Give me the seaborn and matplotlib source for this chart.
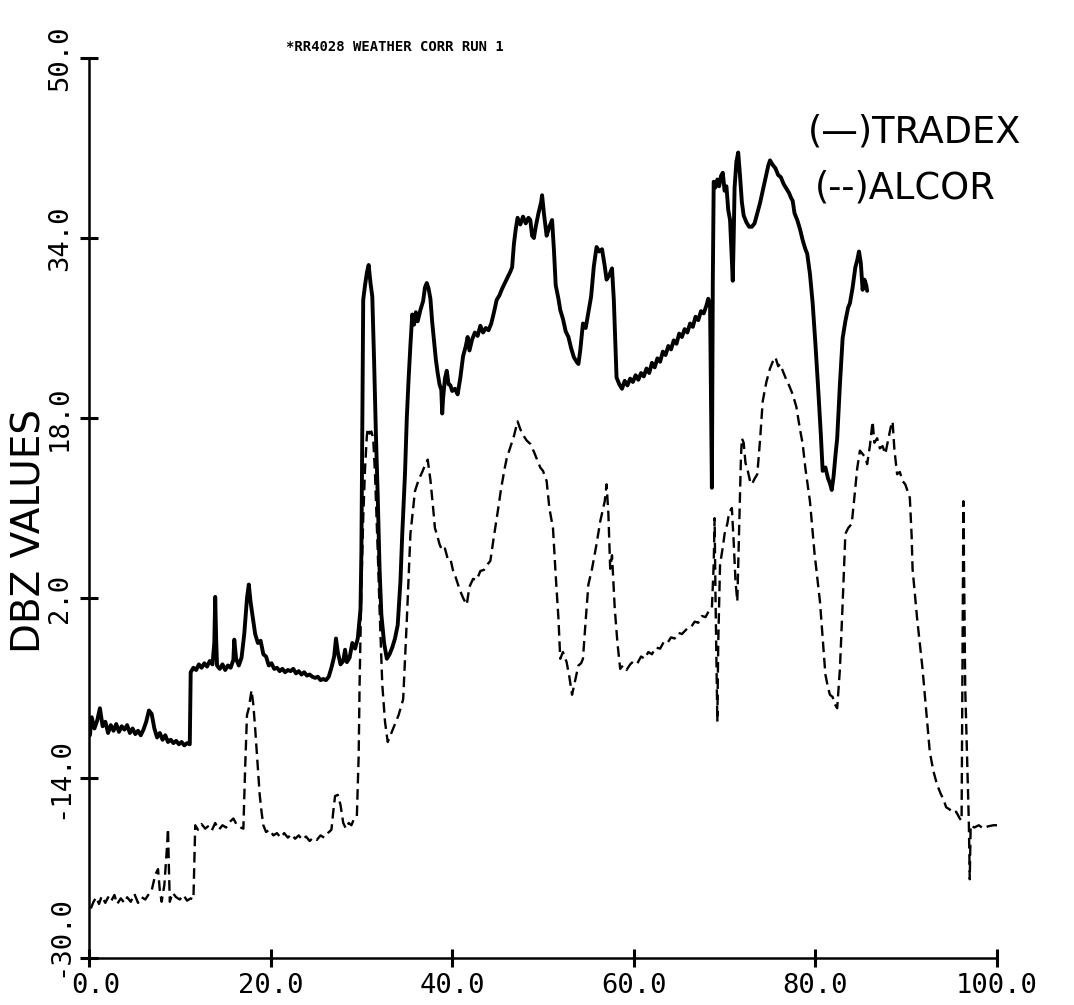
import matplotlib
matplotlib.use("Agg")
import matplotlib.pyplot as plt
import matplotlib.transforms as mtransforms
import seaborn as sns
import pandas as pd

# ---- TRADEX reflectivity (solid trace) ----
tradex_x = [0.1, 0.3, 0.6, 0.9, 1.2, 1.5, 1.8, 2.1, 2.4, 2.7, 3.0, 3.3, 3.6, 3.9, 4.2, 4.5, 4.8, 5.1, 5.4, 5.7,
            6.0, 6.3, 6.6, 6.9, 7.2, 7.5, 7.8, 8.1, 8.4, 8.7, 9.0, 9.3, 9.6, 9.9, 10.2, 10.5, 10.8, 11.1,
            11.2, 11.5, 11.8, 12.1, 12.4, 12.7, 13.0, 13.3, 13.6, 13.8, 13.9, 14.0, 14.1, 14.4, 14.7, 15.0,
            15.3, 15.6, 15.9, 16.0, 16.2, 16.5, 16.8, 17.1, 17.4, 17.6, 17.8, 18.0, 18.3, 18.6, 18.9, 19.2,
            19.5, 19.8, 20.1, 20.4, 20.7, 21.0, 21.3, 21.6, 21.9, 22.2, 22.5, 22.8, 23.1, 23.4, 23.7, 24.0,
            24.3, 24.6, 24.9, 25.2, 25.5, 25.8, 26.1, 26.4, 26.7, 27.0, 27.2, 27.4, 27.7, 28.0, 28.2, 28.4,
            28.7, 29.0, 29.3, 29.6, 29.9, 30.0, 30.1, 30.2, 30.4, 30.6, 30.8, 31.0, 31.2, 31.4, 31.6, 31.8,
            32.0, 32.2, 32.5, 32.8, 33.1, 33.4, 33.7, 34.0, 34.3, 34.5, 34.8, 35.0, 35.2, 35.4, 35.6, 35.8,
            36.0, 36.2, 36.5, 36.8, 37.0, 37.2, 37.4, 37.6, 37.8, 38.0, 38.2, 38.4, 38.6, 38.8, 38.9, 39.0,
            39.2, 39.4, 39.6, 39.8, 40.0, 40.3, 40.6, 40.9, 41.2, 41.5, 41.7, 41.9, 42.2, 42.5, 42.8, 43.1,
            43.4, 43.7, 44.0, 44.3, 44.6, 44.9, 45.2, 45.5, 45.8, 46.1, 46.4, 46.6, 46.8, 47.0, 47.2, 47.5,
            47.8, 48.1, 48.4, 48.6, 48.8, 49.0, 49.2, 49.5, 49.8, 49.9, 50.1, 50.4, 50.7, 51.0, 51.2, 51.4,
            51.7, 51.9, 52.2, 52.5, 52.8, 53.1, 53.4, 53.7, 53.9, 54.1, 54.4, 54.7, 55.0, 55.3, 55.6, 55.9,
            56.2, 56.5, 56.8, 57.0, 57.3, 57.6, 57.8, 58.0, 58.1, 58.4, 58.7, 59.0, 59.3, 59.6, 59.9, 60.2,
            60.5, 60.8, 61.1, 61.4, 61.7, 62.0, 62.3, 62.6, 62.9, 63.2, 63.5, 63.8, 64.1, 64.4, 64.7, 65.0,
            65.3, 65.6, 65.9, 66.2, 66.5, 66.8, 67.1, 67.4, 67.7, 68.0, 68.2, 68.4, 68.5, 68.6, 68.7, 68.8,
            69.0, 69.2, 69.4, 69.6, 69.8, 70.0, 70.2, 70.4, 70.6, 70.8, 70.9, 71.0, 71.1, 71.3, 71.5, 71.7,
            71.9, 72.1, 72.4, 72.7, 73.0, 73.3, 73.6, 73.9, 74.2, 74.5, 74.8, 75.0, 75.3, 75.6, 75.9, 76.2,
            76.5, 76.8, 77.1, 77.3, 77.5, 77.7, 78.0, 78.3, 78.6, 78.9, 79.1, 79.4, 79.7, 80.0, 80.3, 80.6,
            80.8, 81.1, 81.4, 81.6, 81.8, 82.0, 82.2, 82.4, 82.7, 83.0, 83.3, 83.6, 83.8, 84.1, 84.4, 84.6,
            84.8, 85.0, 85.2, 85.4, 85.6, 85.7]
tradex_y = [-10.2, -8.6, -9.6, -8.9, -7.8, -9.4, -9.0, -10.0, -9.3, -9.8, -9.2, -9.9, -9.4, -9.7, -9.3, -10.0, -9.6, -10.1, -9.8, -10.2,
            -9.7, -9.0, -8.0, -8.3, -9.6, -10.4, -10.0, -10.6, -10.2, -10.8, -10.6, -10.9, -10.7, -11.0, -10.8, -11.1, -10.9, -11.0,
            -4.6, -4.2, -4.4, -3.9, -4.2, -3.8, -4.1, -3.6, -3.9, -2.0, 2.1, -1.5, -4.0, -4.3, -3.9, -4.4,
            -4.0, -4.2, -3.5, -1.7, -3.4, -4.0, -3.3, -1.2, 2.0, 3.2, 1.6, 0.5, -1.2, -2.0, -1.8, -3.0,
            -3.2, -4.0, -3.8, -4.3, -4.2, -4.5, -4.3, -4.6, -4.4, -4.5, -4.3, -4.7, -4.5, -4.8, -4.6, -4.9,
            -4.8, -5.0, -5.1, -5.0, -5.3, -5.2, -5.3, -5.0, -4.2, -3.2, -1.6, -2.8, -3.9, -3.6, -2.6, -3.7,
            -3.3, -2.0, -2.5, -1.6, 1.0, 6.1, 18.0, 28.5, 29.8, 30.9, 31.6, 30.0, 28.8, 23.0, 16.5, 11.0,
            4.6, 0.5, -2.0, -3.4, -3.0, -2.4, -1.6, -0.4, 3.5, 7.7, 13.0, 18.0, 21.5, 24.5, 27.2, 26.3,
            27.4, 26.6, 27.6, 28.4, 29.6, 30.0, 29.5, 28.6, 26.5, 24.8, 23.2, 22.0, 21.0, 20.5, 18.4, 19.8,
            21.5, 22.2, 21.0, 20.9, 20.4, 20.6, 20.1, 21.6, 23.5, 24.4, 25.2, 24.0, 25.0, 25.6, 25.3, 26.2,
            25.6, 26.0, 25.8, 26.4, 27.4, 28.5, 28.9, 29.5, 30.0, 30.5, 31.0, 31.4, 33.5, 34.8, 35.8, 35.2,
            35.9, 35.3, 35.8, 35.6, 34.2, 34.0, 35.0, 36.2, 37.2, 37.8, 36.2, 34.2, 35.0, 35.6, 33.0, 29.8,
            28.6, 27.6, 26.8, 25.7, 25.2, 24.2, 23.4, 23.0, 22.8, 24.0, 26.4, 26.0, 27.4, 28.8, 31.5, 33.2,
            32.8, 33.0, 31.5, 30.3, 30.7, 31.3, 28.5, 24.0, 21.6, 21.0, 20.6, 21.3, 20.9, 21.5, 21.2, 21.8,
            21.4, 22.0, 21.7, 22.4, 22.0, 22.9, 22.5, 23.3, 23.0, 23.9, 23.6, 24.4, 24.1, 24.9, 24.6, 25.5,
            25.2, 25.9, 25.6, 26.4, 26.1, 27.0, 26.7, 27.5, 27.3, 28.0, 28.6, 28.0, 20.0, 11.8, 30.0, 39.0,
            38.5, 39.2, 38.6, 39.5, 39.8, 38.2, 38.6, 36.5, 35.6, 32.0, 30.2, 34.0, 38.5, 40.8, 41.6, 39.5,
            37.2, 36.0, 35.4, 35.0, 35.0, 35.3, 36.2, 37.1, 38.2, 39.3, 40.4, 40.9, 40.5, 40.2, 39.6, 39.4,
            38.8, 38.4, 38.0, 37.6, 37.3, 36.2, 35.6, 34.8, 33.8, 33.0, 32.6, 30.8, 28.2, 24.6, 20.7, 16.5,
            13.3, 13.6, 12.6, 12.2, 11.6, 12.8, 14.6, 16.2, 21.0, 25.1, 26.6, 27.8, 28.2, 29.6, 31.4, 32.0,
            32.8, 31.8, 29.4, 30.3, 29.8, 29.3]

# ---- ALCOR reflectivity (dashed trace) ----
alcor_x = [0.2, 0.5, 0.8, 1.1, 1.4, 1.8, 2.1, 2.4, 2.8, 3.1, 3.5, 3.9, 4.2, 4.6, 5.0, 5.4, 5.8, 6.2, 6.6, 6.9,
           7.3, 7.6, 7.8, 8.0, 8.3, 8.6, 8.7, 8.8, 8.9, 9.2, 9.6, 10.0, 10.4, 10.8, 11.2, 11.5, 11.7, 12.0,
           12.4, 12.8, 13.1, 13.5, 13.9, 14.3, 14.7, 15.1, 15.5, 15.9, 16.3, 16.7, 17.0, 17.2, 17.4, 17.6,
           17.9, 18.1, 18.3, 18.5, 18.8, 19.0, 19.2, 19.5, 19.9, 20.3, 20.7, 21.1, 21.5, 21.9, 22.3, 22.7,
           23.1, 23.5, 23.9, 24.3, 24.7, 25.1, 25.5, 25.9, 26.3, 26.7, 26.9, 27.1, 27.4, 27.7, 28.0, 28.3,
           28.6, 28.9, 29.2, 29.5, 29.7, 29.8, 30.0, 30.2, 30.4, 30.6, 30.7, 30.9, 31.1, 31.3, 31.5, 31.8,
           32.0, 32.3, 32.6, 32.9, 33.3, 33.7, 34.1, 34.6, 35.0, 35.4, 35.7, 35.9, 36.3, 36.7, 37.0, 37.3,
           37.6, 37.9, 38.1, 38.3, 38.6, 38.9, 39.2, 39.5, 39.8, 40.1, 40.4, 40.8, 41.2, 41.6, 41.9, 42.3,
           42.7, 43.1, 43.5, 43.9, 44.2, 44.6, 45.0, 45.4, 45.8, 46.0, 46.4, 46.8, 47.2, 47.5, 47.8, 48.2,
           48.6, 49.0, 49.4, 49.7, 50.0, 50.4, 50.7, 51.1, 51.4, 51.7, 51.9, 52.2, 52.6, 52.9, 53.2, 53.5,
           53.9, 54.2, 54.4, 54.7, 55.0, 55.4, 55.9, 56.3, 56.8, 57.0, 57.2, 57.4, 57.6, 57.9, 58.2, 58.5,
           58.8, 59.2, 59.6, 60.0, 60.4, 60.8, 61.2, 61.6, 62.0, 62.4, 62.9, 63.3, 63.7, 64.1, 64.5, 64.9,
           65.3, 65.9, 66.3, 66.7, 67.1, 67.5, 67.9, 68.3, 68.6, 68.8, 68.9, 69.0, 69.2, 69.3, 69.5, 69.8,
           70.0, 70.3, 70.5, 70.8, 71.0, 71.2, 71.4, 71.6, 71.8, 71.9, 72.1, 72.3, 72.5, 72.8, 73.0, 73.3,
           73.6, 73.9, 74.2, 74.6, 75.0, 75.3, 75.6, 75.9, 76.1, 76.4, 76.8, 77.1, 77.5, 77.9, 78.3, 78.6,
           78.9, 79.4, 79.9, 80.5, 81.1, 81.4, 81.6, 81.9, 82.1, 82.4, 82.7, 83.0, 83.3, 83.6, 84.0, 84.3,
           84.6, 84.9, 85.2, 85.5, 85.7, 86.0, 86.3, 86.5, 86.8, 87.1, 87.4, 87.7, 88.0, 88.3, 88.5, 88.7,
           89.0, 89.3, 89.6, 89.9, 90.2, 90.4, 90.6, 90.7, 91.2, 91.8, 92.2, 92.6, 93.0, 93.4, 93.8, 94.1,
           94.4, 94.8, 95.1, 95.5, 95.9, 96.1, 96.3, 96.5, 96.7, 96.9, 97.0, 97.1, 97.5, 98.0, 98.5, 99.0,
           99.6, 100.0]
alcor_y = [-25.6, -25.0, -24.6, -25.2, -24.5, -25.1, -24.6, -25.0, -24.4, -25.2, -24.7, -25.1, -24.6, -25.0, -24.3, -25.1, -24.6, -24.8, -24.3, -24.0,
           -22.6, -22.1, -24.0, -25.0, -23.5, -20.0, -18.5, -22.0, -25.0, -24.2, -24.6, -24.8, -24.4, -24.9, -24.7, -24.8, -18.2, -18.6,
           -18.1, -18.5, -18.3, -18.7, -18.0, -18.6, -18.2, -18.4, -17.9, -17.6, -18.2, -18.4, -18.5, -13.0, -8.4, -7.8,
           -6.2, -7.5, -9.6, -12.0, -15.5, -17.0, -18.2, -18.8, -18.6, -19.1, -18.9, -19.3, -18.9, -19.3, -19.0, -19.4,
           -19.1, -19.5, -19.2, -19.6, -19.3, -19.5, -19.1, -19.3, -18.9, -18.6, -17.0, -15.6, -15.5, -16.4, -18.0, -18.5,
           -18.0, -18.2, -17.6, -17.4, -12.0, -5.7, 3.0, 9.1, 13.5, 16.4, 17.1, 16.6, 16.8, 16.2, 13.0, 6.1,
           1.0, -5.7, -9.0, -10.8, -10.0, -9.2, -8.4, -7.0, 0.0, 7.7, 10.0, 11.5, 12.5, 13.2, 13.8, 14.3,
           12.5, 10.0, 8.2, 7.7, 6.8, 6.2, 6.4, 5.5, 5.5, 4.4, 3.8, 2.8, 2.0, 1.4, 3.0, 3.7,
           3.6, 4.4, 4.5, 5.0, 5.3, 7.5, 9.6, 11.8, 13.6, 14.4, 15.4, 16.4, 17.7, 17.0, 16.5, 16.0,
           15.7, 15.0, 14.2, 13.6, 13.3, 12.4, 10.0, 8.2, 4.0, 0.2, -3.4, -2.8, -3.7, -5.0, -6.6, -5.5,
           -4.0, -3.8, -3.4, 0.0, 3.2, 4.6, 6.8, 8.8, 10.6, 12.1, 9.5, 4.6, 5.8, 1.1, -2.0, -4.3,
           -4.0, -4.4, -3.9, -3.6, -3.8, -3.2, -3.4, -2.8, -3.0, -2.4, -2.5, -1.9, -2.0, -1.5, -1.6, -1.1,
           -1.2, -0.7, -0.6, -0.1, -0.2, 0.4, 0.3, 0.9, 1.1, 5.0, 9.1, 2.0, -9.0, -2.0, 5.0, 6.5,
           7.7, 8.6, 9.6, 10.0, 7.0, 3.5, 1.7, 8.0, 14.5, 16.2, 15.8, 14.0, 13.5, 12.4, 12.1, 12.6,
           13.0, 16.0, 19.5, 21.2, 22.4, 23.0, 23.4, 22.6, 22.8, 22.2, 21.4, 20.9, 20.1, 19.0, 17.0, 15.7,
           13.5, 10.6, 6.0, 1.7, -4.8, -6.0, -6.6, -6.8, -7.4, -7.8, -4.3, 1.5, 7.7, 8.2, 8.6, 11.0,
           13.5, 15.1, 14.8, 14.5, 13.9, 15.5, 17.7, 15.8, 16.2, 15.3, 15.5, 14.8, 16.0, 17.2, 17.7, 15.2,
           13.0, 13.2, 12.4, 12.1, 11.4, 10.9, 7.5, 4.6, 0.2, -4.3, -8.0, -11.7, -13.4, -14.6, -15.4, -15.9,
           -16.6, -16.8, -17.1, -17.0, -17.6, -17.8, 10.6, -6.0, -12.0, -18.0, -23.0, -18.2, -18.4, -18.2, -18.5, -18.3,
           -18.2, -18.2]

x_ticks = [0, 20, 40, 60, 80, 100]
y_ticks = [-30, -14, 2, 18, 34, 50]
x_tick_labels = ["0.0", "20.0", "40.0", "60.0", "80.0", "100.0"]
y_tick_labels = ["-30.0", "-14.0", "2.0", "18.0", "34.0", "50.0"]

tradex = pd.DataFrame({"range": tradex_x, "dbz": tradex_y})
alcor = pd.DataFrame({"range": alcor_x, "dbz": alcor_y})

sns.set_theme(style="ticks")
plt.rcParams["font.family"] = ["DejaVu Sans"]

W, H = 1074, 1005
fig = plt.figure(figsize=(W / 100, H / 100), dpi=100)
ax = fig.add_axes([89 / W, 1 - 958 / H, 908 / W, 900 / H])

sns.lineplot(data=tradex, x="range", y="dbz", ax=ax, color="black", lw=2.8,
             estimator=None, sort=False, solid_joinstyle="round")
sns.lineplot(data=alcor, x="range", y="dbz", ax=ax, color="black", lw=1.7,
             estimator=None, sort=False, linestyle=(0, (4.5, 2.4)))

ax.set_xlim(0, 100)
ax.set_ylim(-30, 50)
sns.despine(ax=ax)
for side in ("left", "bottom"):
    ax.spines[side].set_linewidth(1.8)
    ax.spines[side].set_color("black")

ax.set_xticks(x_ticks)
ax.set_xticklabels(x_tick_labels, family="DejaVu Sans Mono", fontsize=19.5)
ax.set_yticks(y_ticks)
ax.set_yticklabels(y_tick_labels, family="DejaVu Sans Mono", fontsize=19.5,
                   rotation=90, va="center")
ax.tick_params(axis="both", which="major", direction="inout", length=13, width=2.2,
               color="black", labelcolor="black", bottom=True, left=True,
               top=False, right=False)
ax.tick_params(axis="x", pad=4)
ax.tick_params(axis="y", pad=5)

# nudge the two labels at the origin apart
lab_y0 = ax.get_yticklabels()[0]
lab_y0.set_transform(lab_y0.get_transform()
                     + mtransforms.ScaledTranslation(0, 0.22, fig.dpi_scale_trans))
lab_x0 = ax.get_xticklabels()[0]
lab_x0.set_transform(lab_x0.get_transform()
                     + mtransforms.ScaledTranslation(0.07, 0, fig.dpi_scale_trans))

ax.set_xlabel("")
ax.set_ylabel("DBZ VALUES", fontsize=28, color="black", va="center", ha="center")
ax.yaxis.set_label_coords(-0.065, 0.474)

fig.text(395 / W, 1 - 47 / H, "*RR4028 WEATHER CORR RUN 1", family="DejaVu Sans Mono",
         fontweight="bold", fontsize=10, ha="center", va="center", color="black")
fig.text(808 / W, 1 - 132 / H, "(\u2014)TRADEX", fontsize=26.5, ha="left", va="center",
         color="black")
fig.text(815 / W, 1 - 188 / H, "(--)ALCOR", fontsize=26.5, ha="left", va="center",
         color="black")

fig.savefig("out.png", dpi=100, facecolor="white")
